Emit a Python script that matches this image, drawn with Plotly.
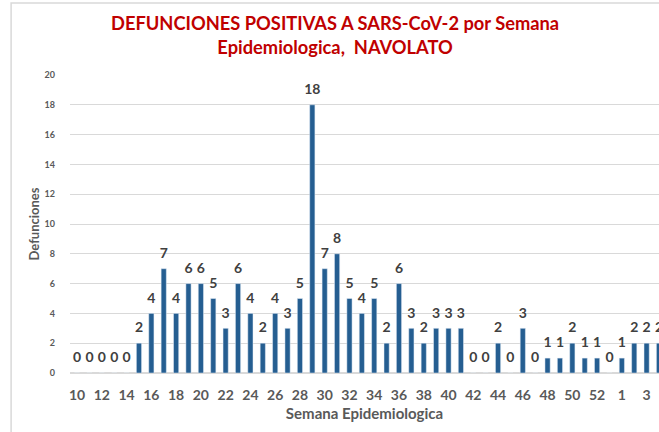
import plotly.graph_objects as go

# semanas epidemiologicas (10 a 53 del primer año, luego 1 a 4)
semanas = [str(s) for s in range(10, 54)] + ["1", "2", "3", "4"]
defunciones = [
    0, 0, 0, 0, 0, 2, 4, 7, 4, 6,   # 10-19
    6, 5, 3, 6, 4, 2, 4, 3, 5, 18,  # 20-29
    7, 8, 5, 4, 5, 2, 6, 3, 2, 3,   # 30-39
    3, 3, 0, 0, 2, 0, 3, 0, 1, 1,   # 40-49
    2, 1, 1, 0,                     # 50-53
    1, 2, 2, 2,                     # 1-4
]
tick_semanas = semanas[::2]
y_ticks = list(range(0, 21, 2))

FONT = "Lato"
GRIS = "#595959"

fig = go.Figure()
fig.add_trace(
    go.Bar(
        x=semanas,
        y=defunciones,
        marker=dict(color="#255E91"),
        hoverinfo="x+y",
    )
)
# etiquetas de datos encima de cada barra (marcador invisible para separar el texto)
fig.add_trace(
    go.Scatter(
        x=semanas,
        y=defunciones,
        mode="markers+text",
        marker=dict(size=10, opacity=0),
        text=[str(v) for v in defunciones],
        textposition="top center",
        cliponaxis=False,
        textfont=dict(family=FONT, size=14, color="#404040", weight="bold"),
        hoverinfo="skip",
    )
)

fig.update_layout(
    width=659,
    height=432,
    margin=dict(l=70, r=0, t=75, b=59),
    paper_bgcolor="white",
    plot_bgcolor="white",
    bargap=0.58,
    showlegend=False,
    font=dict(family=FONT),
    xaxis=dict(
        type="category",
        range=[-0.57, 47.0],
        tickmode="array",
        tickvals=tick_semanas,
        ticktext=tick_semanas,
        tickfont=dict(family=FONT, size=14, color=GRIS, weight="bold"),
        showgrid=False,
        showline=False,
        ticks="",
        ticklabelstandoff=12,
        automargin=False,
        title=dict(
            text="Semana Epidemiologica",
            font=dict(family=FONT, size=15, color=GRIS, weight="bold"),
            standoff=6,
        ),
    ),
    yaxis=dict(
        range=[0, 20],
        tickvals=y_ticks,
        tickfont=dict(family=FONT, size=9, color=GRIS, weight="bold"),
        showgrid=True,
        gridcolor="#D9D9D9",
        zeroline=True,
        zerolinecolor="#D9D9D9",
        showline=False,
        ticks="",
        ticklabelstandoff=14,
        automargin=False,
        title=dict(
            text="Defunciones",
            font=dict(family=FONT, size=13, color=GRIS, weight="bold"),
            standoff=1,
        ),
    ),
    annotations=[
        dict(
            text="DEFUNCIONES POSITIVAS A SARS-CoV-2 por Semana<br>Epidemiologica,  NAVOLATO",
            xref="paper",
            yref="paper",
            x=0.45,
            y=1.0,
            yshift=65,
            xanchor="center",
            yanchor="top",
            showarrow=False,
            font=dict(family=FONT, size=18.3, color="#C00000", weight="bold"),
        )
    ],
    shapes=[
        dict(
            type="rect",
            xref="paper",
            yref="paper",
            x0=-0.1,
            x1=1.2,
            y0=-0.4,
            y1=1.2416,
            line=dict(color="#D9D9D9", width=1.5),
            layer="below",
        )
    ],
)

# la pagina no debe tener margen, la figura ocupa la ventana completa
fig.write_html(
    "out.html",
    config={"displayModeBar": False},
    post_script="document.body.style.margin='0px';",
)
